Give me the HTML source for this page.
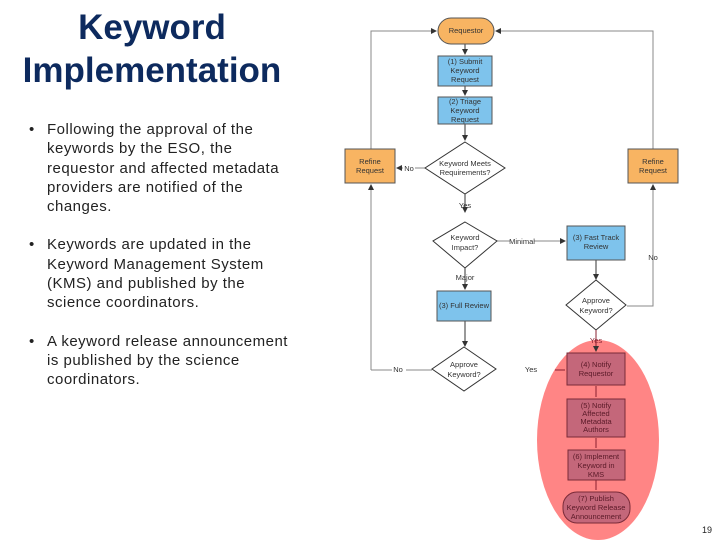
<!DOCTYPE html>
<html><head><meta charset="utf-8"><style>
html,body{margin:0;padding:0;background:#fff;width:720px;height:540px;overflow:hidden;position:relative;font-family:"Liberation Sans",sans-serif}
h1{position:absolute;left:0;top:6px;width:304px;margin:0;text-align:center;color:#0d2a5e;font-size:35px;line-height:43px;font-weight:bold}
ul{position:absolute;left:28px;top:120px;width:300px;margin:0;padding:0;list-style:none;color:#222;font-size:15px;line-height:19.3px;white-space:nowrap;letter-spacing:0.5px}
li{position:relative;padding-left:19px;margin-bottom:19px}
li:before{content:"•";position:absolute;left:1px;top:0}
svg{position:absolute;left:0;top:0}
svg text{font-family:"Liberation Sans",sans-serif;font-size:7.5px;text-anchor:middle;fill:#333}
</style></head><body>
<h1>Keyword<br>Implementation</h1>
<ul>
<li>Following the approval of the<br>keywords by the ESO, the<br>requestor and affected metadata<br>providers are notified of the<br>changes.</li>
<li>Keywords are updated in the<br>Keyword Management System<br>(KMS) and published by the<br>science coordinators.</li>
<li>A keyword release announcement<br>is published by the science<br>coordinators.</li>
</ul>
<svg width="720" height="540" viewBox="0 0 720 540">
<defs><marker id="a" markerWidth="6" markerHeight="6" refX="5" refY="3" orient="auto"><path d="M0,0L6,3L0,6z" fill="#333"/></marker></defs>
<g stroke="#888" stroke-width="1" fill="none">
<path d="M371,149V31H436" marker-end="url(#a)"/>
<path d="M653,149V31H496" marker-end="url(#a)"/>
<path d="M627,306H653V185" marker-end="url(#a)"/>
<path d="M371,370V185" marker-end="url(#a)"/>
<path d="M371,370H432"/>
<path d="M425,168H397" marker-end="url(#a)"/>
<path d="M497,241H565" marker-end="url(#a)"/>
</g>
<g stroke="#333" stroke-width="1" fill="none">
<path d="M465,44V54" marker-end="url(#a)"/>
<path d="M465,86V95" marker-end="url(#a)"/>
<path d="M465,124V140" marker-end="url(#a)"/>
<path d="M465,194V212" marker-end="url(#a)"/>
<path d="M465,268V289" marker-end="url(#a)"/>
<path d="M465,321V346" marker-end="url(#a)"/>
<path d="M596,260V279" marker-end="url(#a)"/>
</g>
<rect x="438" y="18" width="56" height="26" rx="13" fill="#f8b462" stroke="#555"/>
<text x="466" y="33">Requestor</text>
<rect x="438" y="56" width="54" height="30" fill="#7ec3ec" stroke="#555"/>
<text x="465" y="64">(1) Submit</text><text x="465" y="73">Keyword</text><text x="465" y="82">Request</text>
<rect x="438" y="97" width="54" height="27" fill="#7ec3ec" stroke="#555"/>
<text x="465" y="104">(2) Triage</text><text x="465" y="113">Keyword</text><text x="465" y="122">Request</text>
<polygon points="465,142 505,168 465,194 425,168" fill="#fff" stroke="#333"/>
<text x="465" y="166">Keyword Meets</text><text x="465" y="175">Requirements?</text>
<rect x="345" y="149" width="50" height="34" fill="#f8b462" stroke="#555"/>
<text x="370" y="164">Refine</text><text x="370" y="173">Request</text>
<rect x="628" y="149" width="50" height="34" fill="#f8b462" stroke="#555"/>
<text x="653" y="164">Refine</text><text x="653" y="173">Request</text>
<rect x="403" y="164" width="12" height="9" fill="#fff"/><text x="409" y="171">No</text>
<text x="465" y="208">Yes</text>
<polygon points="465,222 497,241 465,268 433,241" fill="#fff" stroke="#333"/>
<text x="465" y="240">Keyword</text><text x="465" y="250">Impact?</text>
<rect x="510" y="237" width="24" height="9" fill="#fff"/><text x="522" y="244">Minimal</text>
<rect x="567" y="226" width="58" height="34" fill="#7ec3ec" stroke="#555"/>
<text x="596" y="240">(3) Fast Track</text><text x="596" y="249">Review</text>
<text x="653" y="260">No</text>
<text x="465" y="280">Major</text>
<rect x="437" y="291" width="54" height="30" fill="#7ec3ec" stroke="#555"/>
<text x="464" y="308">(3) Full Review</text>
<polygon points="596,280 626,305 596,330 566,305" fill="#fff" stroke="#333"/>
<text x="596" y="303">Approve</text><text x="596" y="313">Keyword?</text>
<rect x="392" y="365" width="14" height="9" fill="#fff"/><text x="398" y="372">No</text>
<polygon points="464,347 496,369 464,391 432,369" fill="#fff" stroke="#333"/>
<text x="464" y="367">Approve</text><text x="464" y="377">Keyword?</text>
<text x="531" y="372">Yes</text>
<ellipse cx="598" cy="440" rx="61" ry="100" fill="#ff8585"/>
<g stroke="#8a2030" fill="none"><path d="M596,330V351" marker-end="url(#a)"/><path d="M596,386V397"/><path d="M596,438V448"/><path d="M596,480V490"/><path d="M555,370H565"/></g>
<text x="596" y="343" style="fill:#8a2030">Yes</text>
<g fill="#c4677a" stroke="#7a2a38">
<rect x="567" y="353" width="58" height="32"/>
<rect x="567" y="399" width="58" height="38"/>
<rect x="568" y="450" width="57" height="30"/>
<rect x="563" y="492" width="67" height="31" rx="14"/>
</g>
<text x="596" y="367" style="fill:#5a1a28">(4) Notify</text><text x="596" y="376" style="fill:#5a1a28">Requestor</text>
<text x="596" y="408" style="fill:#5a1a28">(5) Notify</text><text x="596" y="416" style="fill:#5a1a28">Affected</text><text x="596" y="424" style="fill:#5a1a28">Metadata</text><text x="596" y="432" style="fill:#5a1a28">Authors</text>
<text x="596" y="459" style="fill:#5a1a28">(6) Implement</text><text x="596" y="468" style="fill:#5a1a28">Keyword in</text><text x="596" y="477" style="fill:#5a1a28">KMS</text>
<text x="596" y="501" style="fill:#5a1a28">(7) Publish</text><text x="596" y="510" style="fill:#5a1a28">Keyword Release</text><text x="596" y="519" style="fill:#5a1a28">Announcement</text>
<text x="707" y="533" style="font-size:9px;fill:#222">19</text>
</svg>
</body></html>
